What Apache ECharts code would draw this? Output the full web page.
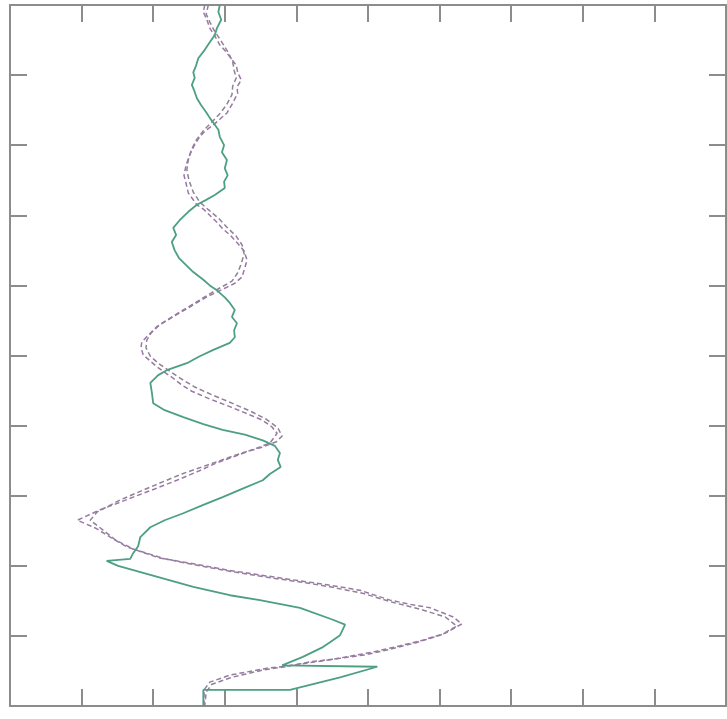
<!DOCTYPE html>
<html><head><meta charset="utf-8">
<script src="https://cdn.jsdelivr.net/npm/echarts@6/dist/echarts.min.js"></script>
<style>html,body{margin:0;padding:0;background:#fff}#c{width:727px;height:719px}</style>
</head><body><div id="c"></div>
<script>
// Axis ranges (no tick labels shown in the reference)
const xRange = [0, 10];
const yRange = [0, 10]; // depth-like, 0 at top
const tickInterval = 1;

// Solid green profile: [x, depth]
const greenProfile = [[2.93,0],[2.91,0.10],[2.95,0.21],[2.89,0.33],[2.86,0.43],[2.79,0.53],[2.72,0.64],[2.63,0.76],[2.60,0.86],[2.56,0.96],[2.58,1.04],[2.54,1.14],[2.58,1.24],[2.61,1.33],[2.67,1.43],[2.74,1.53],[2.79,1.61],[2.84,1.68],[2.91,1.78],[2.93,1.88],[2.99,2.00],[2.96,2.10],[3.03,2.21],[3.00,2.33],[3.04,2.43],[2.99,2.52],[3.00,2.61],[2.86,2.71],[2.74,2.78],[2.61,2.85],[2.49,2.95],[2.37,3.07],[2.28,3.18],[2.32,3.28],[2.26,3.38],[2.30,3.50],[2.36,3.61],[2.46,3.71],[2.56,3.81],[2.70,3.92],[2.79,4.00],[2.89,4.07],[3.00,4.17],[3.07,4.25],[3.14,4.35],[3.10,4.45],[3.17,4.54],[3.13,4.64],[3.14,4.74],[3.07,4.82],[2.84,4.92],[2.65,5.01],[2.47,5.11],[2.33,5.16],[2.19,5.21],[2.07,5.28],[1.96,5.39],[1.98,5.52],[2.00,5.68],[2.16,5.78],[2.42,5.88],[2.70,5.98],[2.97,6.06],[3.28,6.13],[3.53,6.21],[3.70,6.29],[3.77,6.39],[3.74,6.49],[3.78,6.59],[3.63,6.69],[3.53,6.78],[3.25,6.90],[2.97,7.02],[2.70,7.13],[2.42,7.25],[2.16,7.35],[1.96,7.45],[1.82,7.59],[1.79,7.72],[1.72,7.82],[1.68,7.90],[1.35,7.93],[1.51,8.00],[1.86,8.10],[2.21,8.20],[2.56,8.30],[3.07,8.42],[3.49,8.49],[4.05,8.60],[4.51,8.77],[4.68,8.84],[4.61,8.99],[4.47,9.09],[4.37,9.16],[4.09,9.30],[3.80,9.42],[5.13,9.44],[4.61,9.59],[3.91,9.77],[2.70,9.77],[2.70,10.0]];

// Dashed purple profile, outer strand
const purpleProfileA = [[2.72,0],[2.70,0.10],[2.75,0.21],[2.79,0.33],[2.86,0.44],[2.93,0.57],[3.02,0.67],[3.07,0.74],[3.16,0.86],[3.18,0.96],[3.23,1.07],[3.17,1.17],[3.18,1.26],[3.11,1.40],[3.03,1.54],[2.93,1.63],[2.84,1.71],[2.72,1.80],[2.65,1.88],[2.57,2.01],[2.51,2.14],[2.46,2.28],[2.43,2.43],[2.46,2.55],[2.49,2.68],[2.61,2.85],[2.71,2.92],[2.79,3.00],[2.89,3.10],[2.96,3.18],[3.09,3.30],[3.18,3.40],[3.27,3.51],[3.31,3.64],[3.28,3.75],[3.24,3.88],[3.14,3.97],[3.00,4.04],[2.86,4.11],[2.72,4.18],[2.54,4.29],[2.37,4.39],[2.21,4.49],[2.05,4.59],[1.93,4.71],[1.84,4.81],[1.83,4.89],[1.86,4.99],[1.96,5.08],[2.05,5.16],[2.16,5.24],[2.26,5.31],[2.40,5.42],[2.54,5.51],[2.79,5.62],[3.07,5.73],[3.31,5.83],[3.52,5.92],[3.66,6.02],[3.73,6.11],[3.63,6.25],[3.42,6.33],[3.16,6.43],[2.89,6.53],[2.61,6.66],[2.33,6.78],[2.03,6.90],[1.72,7.02],[1.47,7.12],[1.26,7.20],[0.94,7.35],[1.19,7.46],[1.40,7.59],[1.63,7.73],[2.09,7.89],[2.56,7.97],[3.03,8.06],[3.49,8.13],[3.95,8.20],[4.43,8.27],[4.89,8.35],[5.31,8.49],[5.59,8.55],[5.87,8.60],[6.19,8.73],[6.31,8.83],[6.08,8.96],[5.77,9.06],[5.45,9.14],[5.07,9.23],[4.75,9.29],[4.47,9.34],[3.87,9.43],[3.59,9.46],[3.07,9.56],[2.79,9.66],[2.71,9.77],[2.71,10.0]];

// Dashed purple profile, inner strand
const purpleProfileB = [[2.77,0],[2.74,0.13],[2.79,0.24],[2.85,0.36],[2.92,0.47],[2.99,0.58],[3.06,0.70],[3.11,0.81],[3.13,0.93],[3.16,1.04],[3.11,1.16],[3.10,1.28],[3.02,1.43],[2.93,1.55],[2.82,1.67],[2.71,1.78],[2.60,1.93],[2.53,2.07],[2.49,2.21],[2.47,2.35],[2.50,2.50],[2.56,2.67],[2.65,2.81],[2.77,2.92],[2.91,3.04],[3.04,3.18],[3.16,3.30],[3.24,3.42],[3.27,3.55],[3.23,3.69],[3.18,3.82],[3.10,3.94],[2.96,4.02],[2.79,4.12],[2.60,4.24],[2.42,4.35],[2.23,4.47],[2.09,4.56],[1.97,4.68],[1.91,4.78],[1.90,4.89],[1.96,5.01],[2.07,5.11],[2.21,5.21],[2.37,5.32],[2.58,5.45],[2.82,5.56],[3.10,5.68],[3.35,5.79],[3.58,5.91],[3.74,6.03],[3.80,6.15],[3.72,6.23],[3.52,6.31],[3.24,6.39],[2.96,6.49],[2.68,6.59],[2.40,6.69],[2.14,6.80],[1.86,6.92],[1.54,7.06],[1.22,7.23],[1.12,7.35],[1.30,7.49],[1.47,7.63],[1.72,7.76],[2.16,7.90],[2.65,8.00],[3.14,8.09],[3.63,8.17],[4.05,8.23],[4.47,8.30],[4.92,8.39],[5.34,8.52],[5.73,8.62],[6.08,8.73],[6.24,8.86],[6.01,8.99],[5.66,9.10],[5.31,9.19],[4.96,9.27],[4.61,9.32],[4.19,9.37],[3.84,9.44],[3.52,9.49],[3.10,9.59],[2.82,9.69],[2.74,9.80],[2.72,10.0]];

const frameColor = '#8c8c8c';
function axisCommon(pos, range, inverse) {
  return {
    type: 'value', position: pos, min: range[0], max: range[1], interval: tickInterval,
    inverse: !!inverse,
    axisLine: { show: true, onZero: false, lineStyle: { color: frameColor, width: 2 } },
    axisTick: { show: true, inside: true, length: 17, lineStyle: { color: frameColor, width: 2 } },
    axisLabel: { show: false },
    splitLine: { show: false }
  };
}

const chart = echarts.init(document.getElementById('c'), null, { renderer: 'canvas' });
chart.setOption({
  animation: false,
  backgroundColor: '#ffffff',
  grid: { left: 10, right: 1, top: 5, bottom: 13, containLabel: false },
  xAxis: [axisCommon('bottom', xRange), axisCommon('top', xRange)],
  yAxis: [axisCommon('left', yRange, true), axisCommon('right', yRange, true)],
  series: [
    { type: 'line', data: purpleProfileB, xAxisIndex: 0, yAxisIndex: 0, showSymbol: false,
      lineStyle: { color: '#8e8296', width: 1.5, type: [5, 3] } },
    { type: 'line', data: purpleProfileA, xAxisIndex: 0, yAxisIndex: 0, showSymbol: false,
      lineStyle: { color: '#9a78a6', width: 1.5, type: [5, 3] } },
    { type: 'line', data: greenProfile, xAxisIndex: 0, yAxisIndex: 0, showSymbol: false,
      lineStyle: { color: '#4d9f84', width: 1.8 } }
  ]
});
</script></body></html>
